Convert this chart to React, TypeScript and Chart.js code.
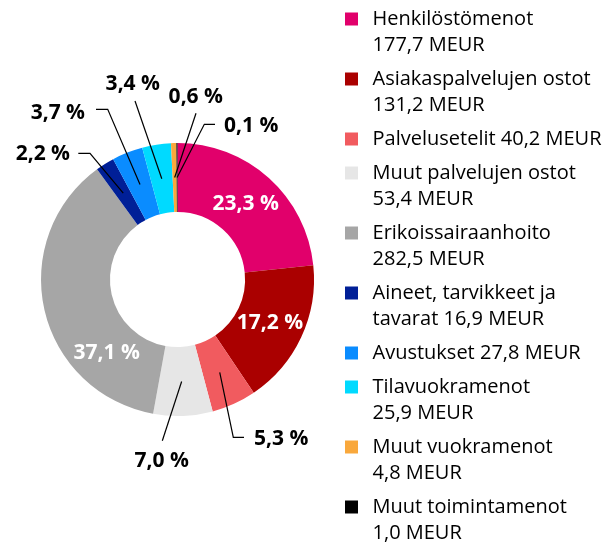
import { useEffect, useRef } from "react";
import { Chart, registerables } from "chart.js";

Chart.register(...registerables);

const categories = [
  "Henkilöstömenot",
  "Asiakaspalvelujen ostot",
  "Palvelusetelit",
  "Muut palvelujen ostot",
  "Erikoissairaanhoito",
  "Aineet, tarvikkeet ja tavarat",
  "Avustukset",
  "Tilavuokramenot",
  "Muut vuokramenot",
  "Muut toimintamenot",
];
const values = [177.7, 131.2, 40.2, 53.4, 282.5, 16.9, 27.8, 25.9, 4.8, 1.0];
const unit = "MEUR";
const colors = [
  "#E1006B",
  "#AA0000",
  "#F15B5F",
  "#E6E6E6",
  "#A6A6A6",
  "#001F97",
  "#0A8CFF",
  "#00DAFF",
  "#F9A83C",
  "#000000",
];

const FONT = "'Open Sans', sans-serif";

// label placement (style/positions relative to doughnut centre, not data)
const labelLayout: any[] = [
  { mode: "in" },
  { mode: "in" },
  { mode: "out", path: [[55.8, 157.8], [66.5, 157.8]], text: [76.5, 159.2], align: "left" },
  { mode: "out", path: [[-15.2, 161.2]], text: [-15.8, 181.8], align: "center" },
  { mode: "in", angle: 134 },
  { mode: "out", path: [[-87.5, -126.2], [-99.2, -126.2]], text: [-107.5, -125], align: "right" },
  { mode: "out", path: [[-69.8, -170.2], [-81.5, -170.2]], text: [-92.5, -166.7], align: "right" },
  { mode: "out", path: [[-42.5, -178.5]], text: [-44.7, -195.3], align: "center" },
  { mode: "out", path: [[18.5, -166.2]], text: [18.3, -182], align: "center" },
  { mode: "out", path: [[26.8, -155.2], [37.5, -155.2]], text: [46.5, -153.5], align: "left" },
];

function fmt(n: number, d = 1) {
  return n.toFixed(d).replace(".", ",");
}

function wrapText(ctx: CanvasRenderingContext2D, text: string, maxWidth: number) {
  const words = text.split(" ");
  const lines: string[] = [];
  let cur = "";
  for (const w of words) {
    const test = cur ? cur + " " + w : w;
    if (cur && ctx.measureText(test).width > maxWidth) {
      lines.push(cur);
      cur = w;
    } else cur = test;
  }
  if (cur) lines.push(cur);
  return lines;
}

const sliceLabels = {
  id: "sliceLabels",
  afterDatasetsDraw(chart: any) {
    const ctx = chart.ctx as CanvasRenderingContext2D;
    const meta = chart.getDatasetMeta(0);
    const data = chart.data.datasets[0].data as number[];
    const total = data.reduce((a, b) => a + b, 0);
    ctx.save();
    ctx.font = `bold 21px ${FONT}`;
    ctx.textBaseline = "middle";
    meta.data.forEach((arc: any, i: number) => {
      const { x, y, startAngle, endAngle, innerRadius, outerRadius } = arc.getProps(
        ["x", "y", "startAngle", "endAngle", "innerRadius", "outerRadius"],
        true
      );
      const lay = labelLayout[i];
      const text = fmt((data[i] / total) * 100) + " %";
      const rMid = (innerRadius + outerRadius) / 2;
      if (lay.mode === "in") {
        const a = lay.angle !== undefined ? (lay.angle * Math.PI) / 180 : (startAngle + endAngle) / 2;
        ctx.fillStyle = "#ffffff";
        ctx.textAlign = "center";
        ctx.fillText(text, x + rMid * Math.cos(a), y + rMid * Math.sin(a));
      } else {
        const a = (startAngle + endAngle) / 2;
        ctx.beginPath();
        ctx.moveTo(x + rMid * Math.cos(a), y + rMid * Math.sin(a));
        lay.path.forEach((p: number[]) => ctx.lineTo(x + p[0], y + p[1]));
        ctx.strokeStyle = "#000000";
        ctx.lineWidth = 1.2;
        ctx.stroke();
        ctx.fillStyle = "#000000";
        ctx.textAlign = lay.align;
        ctx.fillText(text, x + lay.text[0], y + lay.text[1]);
      }
    });
    ctx.restore();
  },
};

export default function App() {
  const ref = useRef<HTMLCanvasElement | null>(null);
  useEffect(() => {
    if (!ref.current) return;
    const mctx = document.createElement("canvas").getContext("2d")!;
    mctx.font = `20px ${FONT}`;
    const legendLines = categories.map((c, i) =>
      wrapText(mctx, `${c} ${fmt(values[i])}\u00a0${unit}`, 240)
    );
    const chart = new Chart(ref.current, {
      type: "doughnut",
      data: {
        labels: categories,
        datasets: [
          {
            data: values,
            backgroundColor: colors,
            borderWidth: 0,
          },
        ],
      },
      options: {
        animation: false,
        responsive: false,
        cutout: "49.5%",
        radius: 136.5,
        layout: { padding: { left: 22.5, right: 4.5, top: 0, bottom: 11 } },
        plugins: {
          tooltip: { enabled: false },
          legend: {
            position: "right",
            align: "start",
            labels: {
              font: { family: FONT, size: 20, lineHeight: 1.3 },
              color: "#000000",
              boxWidth: 22,
              boxHeight: 22,
              padding: 8,
              generateLabels: () =>
                categories.map((c, i) => ({
                  text: legendLines[i] as any,
                  fillStyle: colors[i],
                  strokeStyle: "#ffffff",
                  lineWidth: 9,
                  hidden: false,
                  index: i,
                  datasetIndex: 0,
                })),
            },
          },
        },
      },
      plugins: [sliceLabels],
    });
    return () => chart.destroy();
  }, []);
  return (
    <div style={{ position: "absolute", left: 0, top: 0, width: 616, height: 545, overflow: "hidden" }}>
      <canvas ref={ref} width={616} height={570} style={{ display: "block" }} />
    </div>
  );
}
